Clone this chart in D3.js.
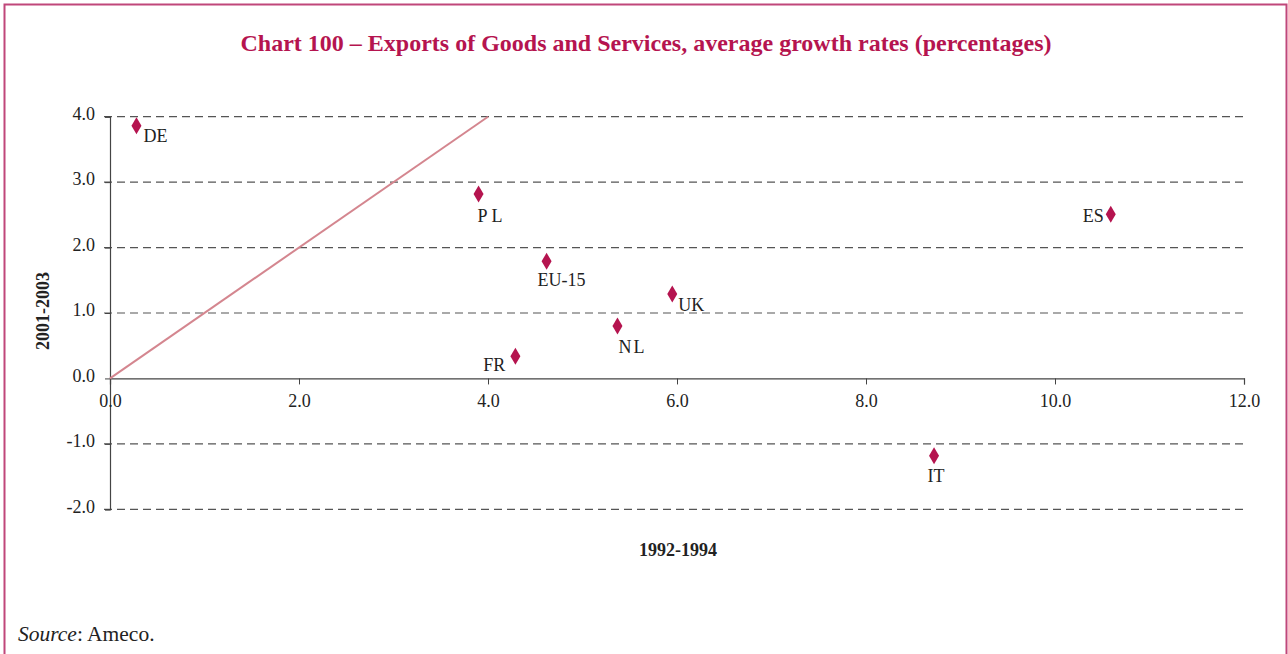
<!DOCTYPE html>
<html><head><meta charset="utf-8">
<script src="https://cdn.jsdelivr.net/npm/d3@7"></script>
<style>
html,body{margin:0;padding:0;background:#fff;}
svg{display:block;}
text{font-family:"Liberation Serif","Times New Roman",serif;}
</style></head>
<body>
<svg id="chart" width="1288" height="654"></svg>
<script>
const countries = ["DE","PL","EU-15","UK","NL","FR","ES","IT"];
const growth9294 = [0.28,3.90,4.62,5.95,5.37,4.29,10.59,8.72];
const growth0103 = [3.86,2.82,1.79,1.29,0.80,0.34,2.51,-1.18];
const xTicks = [0,2,4,6,8,10,12];
const yTicks = [-2,-1,0,1,2,3,4];
const diagonal = [[0,0],[4,4]];
const titleText = "Chart 100 \u2013 Exports of Goods and Services, average growth rates (percentages)";
const xLabel = "1992-1994";
const yLabel = "2001-2003";

// label placement (style only)
const labelPos = {
  "DE":{dx:7,dy:16,anchor:"start"},
  "PL":{dx:-1,dy:28,anchor:"start",ls:"4px"},
  "EU-15":{dx:-9,dy:25,anchor:"start"},
  "UK":{dx:6,dy:17,anchor:"start"},
  "NL":{dx:1,dy:27,anchor:"start",ls:"2px"},
  "FR":{dx:-10,dy:15,anchor:"end"},
  "ES":{dx:-7,dy:8,anchor:"end"},
  "IT":{dx:2,dy:26,anchor:"middle"}
};

const svg = d3.select("#chart");
const crimson = "#b5144f";
const fmt = d => d.toFixed(1);

// frame
svg.append("path")
  .attr("d","M4.5,660 V4.5 H1286.5 V660")
  .attr("fill","none").attr("stroke","#c0477a").attr("stroke-width",2);

svg.append("text").attr("x",646).attr("y",51).attr("text-anchor","middle")
  .attr("font-size",24).attr("font-weight","bold").attr("fill",crimson).text(titleText);

const x = d3.scaleLinear().domain([0,12]).range([110,1244]);
const y = d3.scaleLinear().domain([-2,4]).range([509.3,116.7]);

// gridlines (dashed)
svg.append("g").selectAll("line").data(yTicks.filter(d=>d!==0)).join("line")
  .attr("x1",104).attr("x2",1244)
  .attr("y1",d=>y(d)).attr("y2",d=>y(d))
  .attr("stroke","#555").attr("stroke-width",1.2).attr("stroke-dasharray","8,5");

// y axis
const yAxis = d3.axisLeft(y).tickValues(yTicks).tickFormat(fmt).tickSize(5).tickPadding(10);
const gy = svg.append("g").attr("transform",`translate(${x(0)},0)`).call(yAxis);
gy.select(".domain").attr("stroke","#444").attr("stroke-width",1.2);
gy.selectAll(".tick line").attr("stroke","#444");
gy.selectAll("text").attr("font-family","Liberation Serif").attr("font-size",18).attr("fill","#222").attr("dy","0.15em");

// x axis at y=0
const xAxis = d3.axisBottom(x).tickValues(xTicks).tickFormat(fmt).tickSize(6).tickPadding(10);
const gx = svg.append("g").attr("transform",`translate(0,${y(0)})`).call(xAxis);
gx.select(".domain").attr("stroke","#444").attr("stroke-width",1.2);
gx.selectAll(".tick line").attr("stroke","#444");
gx.selectAll("text").attr("font-family","Liberation Serif").attr("font-size",18).attr("fill","#222");

// diagonal line
svg.append("path").datum(diagonal)
  .attr("d",d3.line().x(d=>x(d[0])).y(d=>y(d[1])))
  .attr("stroke","#d4868f").attr("stroke-width",2).attr("fill","none");

// points
const pts = countries.map((c,i)=>({c, xv:growth9294[i], yv:growth0103[i]}));
svg.append("g").selectAll("path").data(pts).join("path")
  .attr("transform",d=>`translate(${x(d.xv)},${y(d.yv)})`)
  .attr("d","M0,-8.5 L5,0 L0,8.5 L-5,0 Z")
  .attr("fill",crimson);

svg.append("g").selectAll("text").data(pts).join("text")
  .attr("x",d=>x(d.xv)+labelPos[d.c].dx)
  .attr("y",d=>y(d.yv)+labelPos[d.c].dy)
  .attr("text-anchor",d=>labelPos[d.c].anchor)
  .attr("letter-spacing",d=>labelPos[d.c].ls||null)
  .attr("font-size",18).attr("fill","#222")
  .text(d=>d.c);

// axis titles
svg.append("text").attr("x",678).attr("y",556).attr("text-anchor","middle")
  .attr("font-size",18).attr("font-weight","bold").attr("fill","#222").text(xLabel);
svg.append("text").attr("transform","translate(49,311) rotate(-90)").attr("text-anchor","middle")
  .attr("font-size",18).attr("font-weight","bold").attr("fill","#222").text(yLabel);

// source
const src = svg.append("text").attr("x",18).attr("y",641).attr("font-size",21.5).attr("fill","#222");
src.append("tspan").attr("font-style","italic").text("Source");
src.append("tspan").text(": Ameco.");
</script>
</body></html>
